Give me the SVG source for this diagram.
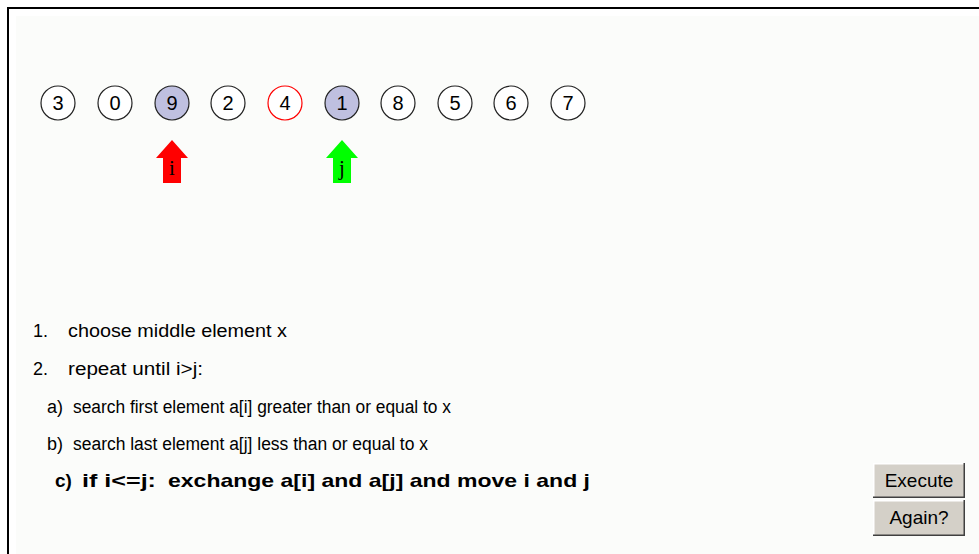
<svg xmlns="http://www.w3.org/2000/svg" width="979" height="554" viewBox="0 0 979 554">
<style>
.frame{fill:none;stroke:#000;stroke-width:2}
.node circle{stroke:#222;stroke-width:1.2;fill:#fff}
.node.sel circle{fill:#bfc0e0}
.node.piv circle{stroke:#ff0000}
.dig{font-family:"Liberation Sans",Arial,sans-serif;font-size:20px;fill:#000;text-anchor:middle}
.t{font-family:"Liberation Sans",Arial,sans-serif;font-size:18px;fill:#000}
.b{font-family:"Liberation Sans",Arial,sans-serif;font-size:19px;font-weight:bold;fill:#000}
.lab{font-family:"Liberation Serif","Times New Roman",serif;font-size:21px;fill:#000;text-anchor:middle}
.btn-face{fill:#d4d0c8}
.btn-hi{fill:none;stroke:#fff;stroke-width:1.5}
.btn-sh{fill:none;stroke:#404040;stroke-width:1.5}
.bt{font-family:"Liberation Sans",Arial,sans-serif;font-size:19px;fill:#000;text-anchor:middle}
</style>
<rect x="0" y="0" width="979" height="554" fill="#fff"/>
<rect x="16" y="16" width="963" height="538" fill="#fbfcfa"/>
<path class="frame" d="M8,554 V8 H979"/>
<g id="nodes">
<g id="n0" class="node"><circle cx="58" cy="103" r="17"/><text class="dig" x="58" y="110">3</text></g>
<g id="n1" class="node"><circle cx="115" cy="103" r="17"/><text class="dig" x="115" y="110">0</text></g>
<g id="n2" class="node sel"><circle cx="172" cy="103" r="17"/><text class="dig" x="172" y="110">9</text></g>
<g id="n3" class="node"><circle cx="228" cy="103" r="17"/><text class="dig" x="228" y="110">2</text></g>
<g id="n4" class="node piv"><circle cx="285" cy="103" r="17"/><text class="dig" x="285" y="110">4</text></g>
<g id="n5" class="node sel"><circle cx="342" cy="103" r="17"/><text class="dig" x="342" y="110">1</text></g>
<g id="n6" class="node"><circle cx="398" cy="103" r="17"/><text class="dig" x="398" y="110">8</text></g>
<g id="n7" class="node"><circle cx="455" cy="103" r="17"/><text class="dig" x="455" y="110">5</text></g>
<g id="n8" class="node"><circle cx="511" cy="103" r="17"/><text class="dig" x="511" y="110">6</text></g>
<g id="n9" class="node"><circle cx="568" cy="103" r="17"/><text class="dig" x="568" y="110">7</text></g>
</g>
<g id="pointers">
<g id="ptr-i"><path d="M172,140 L188,158 L181,158 L181,183 L163,183 L163,158 L156,158 Z" fill="#ff0000"/><text class="lab" x="172" y="175">i</text></g>
<g id="ptr-j"><path d="M342,140 L358,158 L351,158 L351,183 L333,183 L333,158 L326,158 Z" fill="#00ff00"/><text class="lab" x="342" y="175">j</text></g>
</g>
<g id="steps">
<text class="t" x="33" y="337">1.</text><text class="t" x="68" y="337" textLength="219" lengthAdjust="spacingAndGlyphs">choose middle element x</text>
<text class="t" x="33" y="375">2.</text><text class="t" x="68" y="375" textLength="135" lengthAdjust="spacingAndGlyphs">repeat until i&gt;j:</text>
<text class="t" x="47" y="413">a)</text><text class="t" x="73" y="413" textLength="378" lengthAdjust="spacingAndGlyphs">search first element a[i] greater than or equal to x</text>
<text class="t" x="47" y="450">b)</text><text class="t" x="73" y="450" textLength="355" lengthAdjust="spacingAndGlyphs">search last element a[j] less than or equal to x</text>
<text class="b" x="55" y="487">c)</text><text class="b" x="82" y="487" textLength="74" lengthAdjust="spacingAndGlyphs">if i&lt;=j:</text><text class="b" x="168" y="487" textLength="422" lengthAdjust="spacingAndGlyphs">exchange a[i] and a[j] and move i and j</text>
</g>
<g id="btn-execute">
<rect class="btn-face" x="873" y="463" width="92" height="35"/>
<path class="btn-hi" d="M873.75,497 V463.75 H964"/>
<path class="btn-sh" d="M873,497.25 H964.25 V463"/>
<text class="bt" x="919" y="487">Execute</text>
</g>
<g id="btn-again">
<rect class="btn-face" x="873" y="500" width="92" height="36"/>
<path class="btn-hi" d="M873.75,535 V500.75 H964"/>
<path class="btn-sh" d="M873,535.25 H964.25 V500"/>
<text class="bt" x="919" y="524">Again?</text>
</g>
</svg>
